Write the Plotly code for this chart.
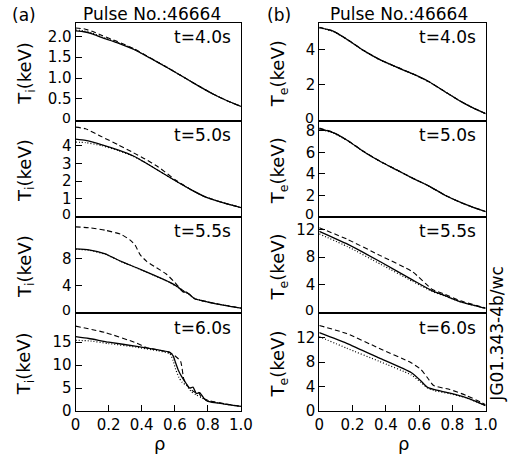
import plotly.graph_objects as go

# ---------------- data ----------------
# Ti panels (left column)
ti40_rho = [0, 0.05, 0.1, 0.16, 0.25, 0.35, 0.45, 0.55, 0.65, 0.74, 0.84, 0.92, 1.0]
ti40_solid = [2.13, 2.11, 2.06, 1.97, 1.85, 1.69, 1.48, 1.26, 1.03, 0.82, 0.60, 0.45, 0.32]
ti40_dash = [2.20, 2.18, 2.12, 2.02, 1.88, 1.71, 1.49, 1.26, 1.03, 0.82, 0.60, 0.45, 0.32]
ti40_dot = [2.15, 2.13, 2.08, 1.98, 1.86, 1.70, 1.48, 1.27, 1.03, 0.82, 0.60, 0.45, 0.32]

ti50_rho = [0, 0.06, 0.16, 0.26, 0.35, 0.42, 0.5, 0.606, 0.7, 0.78, 0.9, 1.0]
ti50_solid = [4.37, 4.30, 4.05, 3.75, 3.42, 3.05, 2.60, 2.00, 1.50, 1.12, 0.75, 0.50]
ti50_dash = [5.05, 4.96, 4.50, 4.04, 3.60, 3.25, 2.80, 2.05, 1.50, 1.12, 0.75, 0.50]
ti50_dot = [4.20, 4.18, 4.00, 3.72, 3.40, 3.05, 2.60, 2.00, 1.50, 1.12, 0.75, 0.50]

ti55_rho = [0, 0.08, 0.18, 0.275, 0.37, 0.47, 0.57, 0.626, 0.65, 0.67, 0.684, 0.72, 0.8, 0.9, 1.0]
ti55_solid = [9.45, 9.30, 8.70, 7.60, 6.66, 5.60, 4.50, 3.67, 3.10, 3.05, 2.80, 2.08, 1.60, 1.12, 0.70]
ti55_dot = [9.40, 9.25, 8.65, 7.58, 6.62, 5.58, 4.48, 3.65, 3.20, 2.95, 2.75, 2.10, 1.60, 1.12, 0.70]
ti55d_rho = [0, 0.08, 0.18, 0.275, 0.33, 0.36, 0.39, 0.43, 0.49, 0.55, 0.6, 0.63, 0.65, 0.67, 0.684, 0.72, 0.8, 0.9, 1.0]
ti55_dash = [12.7, 12.58, 12.2, 11.6, 10.75, 10.0, 8.6, 7.6, 6.66, 5.7, 4.5, 3.67, 3.3, 2.95, 2.85, 2.1, 1.62, 1.13, 0.70]

ti60s_rho = [0, 0.08, 0.2, 0.37, 0.5, 0.57, 0.59, 0.605, 0.62, 0.64, 0.665, 0.69, 0.71, 0.73, 0.75, 0.78, 0.8, 0.9, 1.0]
ti60_solid = [16.2, 15.8, 15.0, 14.1, 13.3, 12.8, 12.0, 10.5, 9.0, 7.6, 6.2, 5.0, 5.2, 3.8, 4.0, 2.6, 2.1, 1.5, 1.0]
ti60d_rho = [0, 0.18, 0.37, 0.43, 0.5, 0.57, 0.6, 0.635, 0.655, 0.684, 0.72, 0.74, 0.76, 0.8, 0.9, 1.0]
ti60_dash = [18.5, 17.1, 14.8, 13.8, 13.3, 12.7, 12.05, 10.85, 6.9, 5.1, 4.1, 4.3, 3.0, 2.3, 1.6, 1.0]
ti60o_rho = [0, 0.08, 0.2, 0.37, 0.5, 0.57, 0.59, 0.605, 0.625, 0.645, 0.67, 0.7, 0.73, 0.76, 0.8, 0.9, 1.0]
ti60_dot = [15.4, 15.3, 14.7, 13.9, 13.1, 12.5, 11.0, 9.1, 7.3, 6.2, 5.6, 4.2, 3.5, 2.9, 2.2, 1.5, 1.0]

# Te panels (right column)
te40_rho = [0, 0.08, 0.17, 0.27, 0.37, 0.465, 0.56, 0.66, 0.756, 0.85, 0.93, 1.0]
te40_solid = [5.26, 5.07, 4.57, 3.93, 3.40, 3.00, 2.63, 2.17, 1.60, 1.05, 0.65, 0.35]
te40_dash = [5.28, 5.08, 4.58, 3.94, 3.41, 3.01, 2.63, 2.17, 1.60, 1.05, 0.65, 0.35]
te40_dot = [5.25, 5.06, 4.56, 3.92, 3.39, 3.00, 2.62, 2.16, 1.60, 1.05, 0.65, 0.35]

te50_rho = [0, 0.08, 0.17, 0.27, 0.37, 0.465, 0.56, 0.66, 0.756, 0.85, 0.93, 1.0]
te50_solid = [8.20, 7.85, 7.10, 6.03, 5.12, 4.36, 3.60, 2.85, 2.00, 1.33, 0.85, 0.48]
te50_dash = [8.25, 7.88, 7.12, 6.05, 5.13, 4.37, 3.61, 2.85, 2.00, 1.33, 0.85, 0.48]
te50_dot = [8.15, 7.82, 7.08, 6.02, 5.11, 4.35, 3.60, 2.85, 2.00, 1.33, 0.85, 0.48]

te55_rho = [0, 0.17, 0.37, 0.56, 0.68, 0.756, 0.85, 1.0]
te55_solid = [11.77, 9.90, 7.30, 4.70, 3.10, 2.40, 1.50, 0.55]
te55_dash = [12.30, 10.60, 8.20, 5.90, 3.30, 2.60, 1.65, 0.60]
te55_dot = [11.40, 9.55, 6.97, 4.50, 3.00, 2.35, 1.50, 0.55]

te60_rho = [0, 0.165, 0.359, 0.552, 0.61, 0.649, 0.688, 0.785, 0.882, 0.979, 1.0]
te60_solid = [12.85, 11.10, 8.70, 6.30, 4.96, 3.90, 3.52, 2.93, 2.19, 1.12, 0.85]
te60_dash = [14.03, 12.70, 10.30, 7.90, 6.83, 5.50, 4.16, 3.52, 2.56, 1.33, 1.00]
te60_dot = [12.20, 10.30, 8.16, 5.92, 4.70, 3.79, 3.36, 2.83, 2.15, 1.10, 0.85]

times = ["t=4.0s", "t=5.0s", "t=5.5s", "t=6.0s"]
ti_ranges = [[-0.02, 2.33], [-0.02, 5.42], [0, 14.2], [0, 21.4]]
ti_ticks = [[0, 0.5, 1.0, 1.5, 2.0], [0, 1, 2, 3, 4], [0, 4, 8], [0, 5, 10, 15]]
ti_ticktext = [["0", "0.5", "1.0", "1.5", "2.0"], ["0", "1", "2", "3", "4"], ["0", "4", "8"], ["0", "5", "10", "15"]]
te_ranges = [[-0.05, 5.55], [0, 8.95], [-0.1, 13.9], [0, 16.1]]
te_ticks = [[0, 2, 4], [0, 2, 4, 6, 8], [0, 4, 8, 12], [0, 4, 8, 12]]
te_ticktext = [["0", "2", "4"], ["0", "2", "4", "6", "8"], ["0", "4", "8", "12"], ["0", "4", "8", "12"]]
rho_ticks = [0, 0.2, 0.4, 0.6, 0.8, 1.0]
rho_ticktext = ["0", "0.2", "0.4", "0.6", "0.8", "1.0"]

left_panels = [
    [(ti40_rho, ti40_dash), (ti40_rho, ti40_dot), (ti40_rho, ti40_solid)],
    [(ti50_rho, ti50_dash), (ti50_rho, ti50_dot), (ti50_rho, ti50_solid)],
    [(ti55d_rho, ti55_dash), (ti55_rho, ti55_dot), (ti55_rho, ti55_solid)],
    [(ti60d_rho, ti60_dash), (ti60o_rho, ti60_dot), (ti60s_rho, ti60_solid)],
]
right_panels = [
    [(te40_rho, te40_dash), (te40_rho, te40_dot), (te40_rho, te40_solid)],
    [(te50_rho, te50_dash), (te50_rho, te50_dot), (te50_rho, te50_solid)],
    [(te55_rho, te55_dash), (te55_rho, te55_dot), (te55_rho, te55_solid)],
    [(te60_rho, te60_dash), (te60_rho, te60_dot), (te60_rho, te60_solid)],
]

# ---------------- layout geometry ----------------
W, H = 515, 467
FONT = "DejaVu Sans"
col_x = [(73, 244), (325, 497)]
row_y = [(23, 123), (123, 221), (221, 319), (319, 419)]

def fx(px):
    return px / W

def fy(py):
    return 1 - py / H

styles = [dict(dash="5px,3px", width=1.1), dict(dash="1px,2px", width=1.2), dict(dash="solid", width=1.3)]

fig = go.Figure()
layout = dict(
    width=W, height=H, margin=dict(l=0, r=0, t=0, b=0),
    paper_bgcolor="white", plot_bgcolor="white", showlegend=False,
    font=dict(family=FONT, color="black", size=15),
)

annotations = []
for c, panels in enumerate([left_panels, right_panels]):
    for r in range(4):
        idx = c * 4 + r + 1
        xa = "x" if idx == 1 else f"x{idx}"
        ya = "y" if idx == 1 else f"y{idx}"
        for (rho, vals), st in zip(panels[r], styles):
            fig.add_trace(go.Scatter(
                x=rho, y=vals, mode="lines", xaxis=xa, yaxis=ya,
                line=dict(color="black", width=st["width"], dash=st["dash"], shape="spline", smoothing=0.5),
                hoverinfo="skip",
            ))
        bottom = (r == 3)
        xkey = "xaxis" if idx == 1 else f"xaxis{idx}"
        ykey = "yaxis" if idx == 1 else f"yaxis{idx}"
        layout[xkey] = dict(
            domain=[fx(col_x[c][0]), fx(col_x[c][1])], anchor=ya, range=[0, 1],
            showline=True, mirror=True, linecolor="black", linewidth=1,
            showgrid=False, zeroline=False,
            ticks="inside" if bottom else "", ticklen=6, tickcolor="black",
            tickvals=rho_ticks, ticktext=rho_ticktext, showticklabels=bottom,
            tickfont=dict(size=15, family=FONT, color="black"),
        )
        if c == 0:
            rng, tv, tt = ti_ranges[r], ti_ticks[r], list(ti_ticktext[r])
        else:
            rng, tv, tt = te_ranges[r], te_ticks[r], list(te_ticktext[r])
        zero_label = None
        if not bottom:
            # the "0" label of an upper panel sits just above the shared border
            zero_label = tt[0]
            tt[0] = ""
        layout[ykey] = dict(
            domain=[fy(row_y[r][1]), fy(row_y[r][0])], anchor=xa, range=rng,
            showline=True, mirror=True, linecolor="black", linewidth=1,
            showgrid=False, zeroline=False,
            ticks="inside", ticklen=6, tickcolor="black",
            tickvals=tv, ticktext=tt,
            tickfont=dict(size=15, family=FONT, color="black"),
        )
        if zero_label is not None:
            annotations.append(dict(
                text=zero_label, x=fx(col_x[c][0] - 3), y=fy(row_y[r][1] - 3),
                xref="paper", yref="paper", xanchor="right", yanchor="middle",
                showarrow=False, font=dict(size=14, family=FONT, color="black"),
            ))
        # time label
        annotations.append(dict(
            text=times[r], x=fx(col_x[c][1] - 8), y=fy(row_y[r][0] + 15),
            xref="paper", yref="paper", xanchor="right", yanchor="middle",
            showarrow=False, font=dict(size=17, family=FONT, color="black"),
        ))
        # y label
        ylab = "T<sub>i</sub>(keV)" if c == 0 else "T<sub>e</sub>(keV)"
        annotations.append(dict(
            text=ylab, x=fx(21 if c == 0 else 283), y=fy((row_y[r][0] + row_y[r][1]) / 2 + 2),
            xref="paper", yref="paper", xanchor="center", yanchor="middle",
            textangle=-90, showarrow=False, font=dict(size=18, family=FONT, color="black"),
        ))

for c, tag in enumerate(["(a)", "(b)"]):
    annotations.append(dict(text=tag, x=fx([20, 283][c]), y=fy(15), xref="paper", yref="paper",
                            xanchor="center", yanchor="middle", showarrow=False,
                            font=dict(size=17, family=FONT, color="black")))
    annotations.append(dict(text="Pulse No.:46664", x=fx([152.5, 407][c]), y=fy(14), xref="paper", yref="paper",
                            xanchor="center", yanchor="middle", showarrow=False,
                            font=dict(size=17, family=FONT, color="black")))
    annotations.append(dict(text="ρ", x=fx([160, 412][c]), y=fy(452), xref="paper", yref="paper",
                            xanchor="center", yanchor="middle", showarrow=False,
                            font=dict(size=18, family=FONT, color="black")))

annotations.append(dict(text="JG01.343-4b/wc", x=fx(509), y=fy(341), xref="paper", yref="paper",
                        xanchor="center", yanchor="middle", textangle=-90, showarrow=False,
                        font=dict(size=17, family=FONT, color="black")))

layout["annotations"] = annotations
fig.update_layout(**layout)
fig.write_html("out.html")
